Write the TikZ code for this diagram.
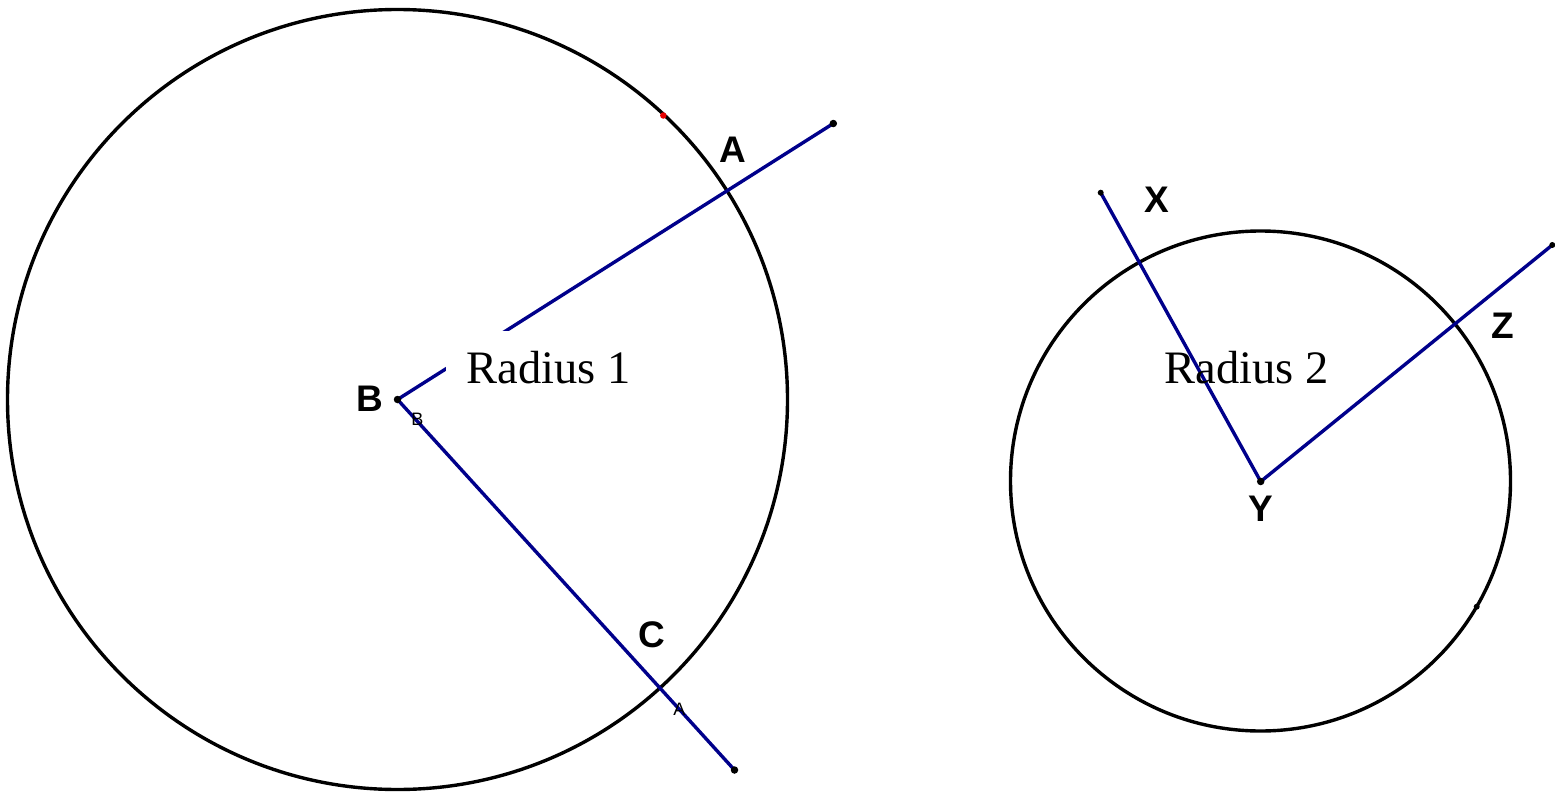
\documentclass[tikz,border=0pt]{standalone}
\usepackage{fontspec}
\setmainfont{Liberation Serif}
\newfontfamily\labfont{Liberation Sans}
\definecolor{segblue}{RGB}{0,0,139}
\definecolor{ptred}{RGB}{230,0,0}
\tikzset{
  circ/.style={draw=black, line width=3.4pt},
  seg/.style={draw=segblue, line width=3.4pt},
  dot/.style={circle, fill=black, inner sep=0pt, minimum size=7.5pt},
  reddot/.style={circle, fill=ptred, inner sep=0pt, minimum size=6.5pt},
  ptlabel/.style={font=\labfont\bfseries\fontsize{37}{40}\selectfont, inner sep=0pt, anchor=center},
  smalllabel/.style={font=\labfont\fontsize{18}{20}\selectfont, inner sep=0pt, anchor=center},
  radlabel/.style={font=\fontsize{46.5}{50}\selectfont, inner sep=20pt, anchor=base}
}
\begin{document}
\begin{tikzpicture}[x=1pt, y=-1pt]
\useasboundingbox (0,0) rectangle (1555,792);
% circles
\node[circle, inner sep=0pt, minimum size=780pt, circ] (c1) at (397.5,399.5) {};
\node[circle, inner sep=0pt, minimum size=500pt, circ] (c2) at (1260.5,481) {};
% points
\coordinate (B) at (397.5,399.5);
\coordinate (Aend) at (833.3,123.5);
\coordinate (Cend) at (734.5,770);
\coordinate (Y) at (1260.7,481.5);
\coordinate (Xend) at (1100.7,192.7);
\coordinate (Zend) at (1552.3,245);
% segments
\draw[seg] (B) -- (Aend);
\draw[seg] (B) -- (Cend);
\draw[seg] (Y) -- (Xend);
\draw[seg] (Y) -- (Zend);
% label with white background hiding part of segment
\node[radlabel, fill=white] (r1) at (548.5,383) {Radius 1};
\node[radlabel] (r2) at (1246.5,383) {Radius 2};
% dots
\node[dot] (Bd) at (B) {};
\node[dot] (Ad) at (Aend) {};
\node[dot] (Cd) at (Cend) {};
\node[dot] (Yd) at (Y) {};
\node[dot, minimum size=6pt] (Xd) at (Xend) {};
\node[dot, minimum size=6pt] (Zd) at (Zend) {};
\node[dot, minimum size=6pt] (Pd) at (1476.7,606.7) {};
\node[reddot] (Rd) at (663.3,115.5) {};
% labels
\node[ptlabel] (lA) at (732.7,149.5) {A};
\node[ptlabel] (lB) at (370,398.5) {B};
\node[ptlabel] (lC) at (651.5,634.5) {C};
\node[ptlabel] (lX) at (1156.7,200) {X};
\node[ptlabel] (lY) at (1260.5,509) {Y};
\node[ptlabel] (lZ) at (1502.7,326) {Z};
\node[smalllabel] (sB) at (417.3,419.5) {B};
\node[smalllabel] (sA) at (679.3,709) {A};
\end{tikzpicture}
\end{document}
